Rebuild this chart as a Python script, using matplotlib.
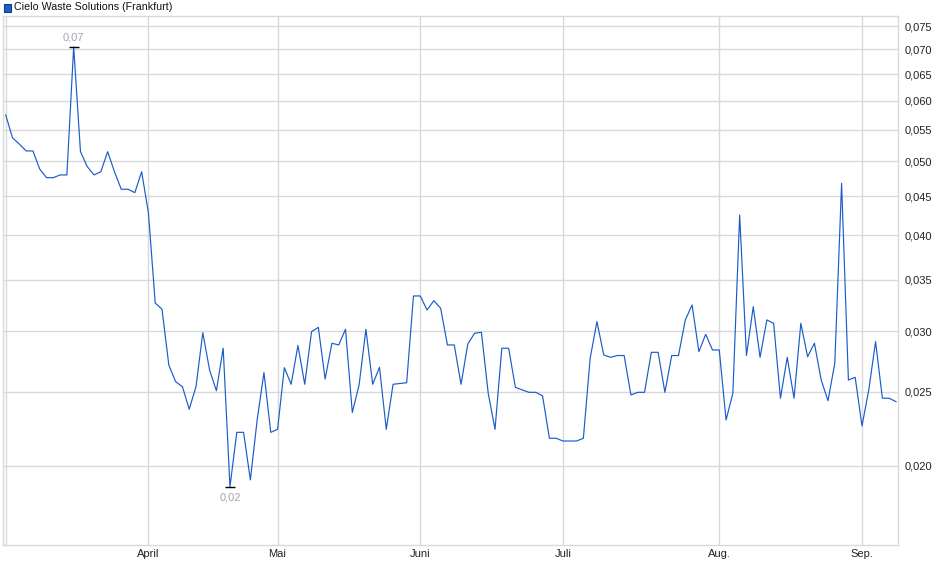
import matplotlib
matplotlib.use("Agg")
import matplotlib.pyplot as plt
from matplotlib.ticker import FixedLocator, FuncFormatter, NullLocator
from matplotlib.patches import Rectangle
import numpy as np

plt.rcParams['font.family'] = ['Liberation Sans', 'DejaVu Sans']

title = "Cielo Waste Solutions (Frankfurt)"

prices = [
    0.05747, 0.05364, 0.05267, 0.05158, 0.05158, 0.04886, 0.0476, 0.0476, 0.04799, 0.04799,
    0.07052, 0.05147, 0.0492, 0.04799, 0.04846, 0.05147, 0.04846, 0.04597, 0.04597, 0.0455,
    0.04846, 0.04281, 0.03265, 0.03204, 0.0271, 0.02577, 0.02539, 0.02372, 0.02539, 0.02986,
    0.02669, 0.02508, 0.0285, 0.01879, 0.02213, 0.02213, 0.01918, 0.02297, 0.02649, 0.02213,
    0.02233, 0.02688, 0.02557, 0.02874, 0.02557, 0.02995, 0.03035, 0.02598, 0.02893, 0.02878,
    0.03017, 0.02349, 0.02552, 0.03017, 0.02557, 0.02691, 0.02233, 0.02557, 0.02563, 0.02569,
    0.03335, 0.03335, 0.03197, 0.03288, 0.03214, 0.02878, 0.02878, 0.02557, 0.02887, 0.02981,
    0.0299, 0.02489, 0.02233, 0.0285, 0.0285, 0.02534, 0.02514, 0.02496, 0.02496, 0.02469,
    0.02174, 0.02174, 0.02156, 0.02156, 0.02156, 0.02174, 0.02765, 0.03087, 0.02793, 0.02773,
    0.02788, 0.02788, 0.02476, 0.02496, 0.02496, 0.02815, 0.02815, 0.02496, 0.02788, 0.02788,
    0.03103, 0.03246, 0.0282, 0.02972, 0.02835, 0.02835, 0.02297, 0.02489, 0.04255, 0.02788,
    0.03229, 0.02773, 0.03103, 0.03072, 0.02452, 0.02773, 0.02452, 0.03072, 0.02778, 0.02893,
    0.0259, 0.02434, 0.02724, 0.0468, 0.0259, 0.02611, 0.02256, 0.02514, 0.02907, 0.02452,
    0.02452, 0.02427,
]

month_labels = ["April", "Mai", "Juni", "Juli", "Aug.", "Sep."]
month_index = [21, 40, 61, 82, 105, 126]

y_ticks = [0.020, 0.025, 0.030, 0.035, 0.040, 0.045, 0.050, 0.055, 0.060, 0.065, 0.070, 0.075]

W, H = 940, 579
fig = plt.figure(figsize=(W / 100, H / 100), dpi=100)
ax = fig.add_axes([3 / W, 1 - 545 / H, (898 - 3) / W, (545 - 16) / H])

x = np.arange(len(prices))
line_color = "#1a5cc8"
ax.plot(x, prices, color=line_color, lw=0.85, zorder=3)

ax.set_yscale("log")
ax.set_ylim(0.01577, 0.0774)
ax.set_xlim(-0.4, 131.3)

ax.yaxis.set_major_locator(FixedLocator(y_ticks))
ax.yaxis.set_minor_locator(NullLocator())
ax.yaxis.set_major_formatter(FuncFormatter(lambda v, p: f"{v:.3f}".replace(".", ",")))
ax.yaxis.tick_right()
ax.tick_params(axis="y", length=0, pad=5, labelsize=8, labelcolor="#222222")

ax.xaxis.set_major_locator(FixedLocator(month_index))
ax.xaxis.set_minor_locator(NullLocator())
ax.set_xticklabels(month_labels)
ax.tick_params(axis="x", length=0, pad=3, labelsize=8, labelcolor="#222222")

grid_c = "#d9d9d9"
ax.grid(True, which="major", color=grid_c, lw=1.0, zorder=0)
ax.axvline(0, color=grid_c, lw=1.0, zorder=0)
for s in ax.spines.values():
    s.set_color(grid_c)
    s.set_linewidth(1.0)

# max / min markers
imax = int(np.argmax(prices))
imin = int(np.argmin(prices))
for idx, off in ((imax, 9), (imin, -11)):
    val = prices[idx]
    ax.plot([idx], [val], marker="_", color="black", markersize=7, mew=1.0, zorder=4)
    ax.annotate(f"{val:.2f}".replace(".", ","), (idx, val), xytext=(0, off),
                textcoords="offset pixels", ha="center", va="center",
                fontsize=8, color="#a0a6b0", zorder=5)

# legend
fig.patches.append(Rectangle((3.5 / W, 1 - 11.5 / H), 7.5 / W, 7.5 / H, transform=fig.transFigure,
                             facecolor="#1f5fc8", edgecolor="#123d80", lw=0.8))
fig.text(14.5 / W, 1 - 7 / H, title, fontsize=7.7, color="#111111", va="center", ha="left")

fig.savefig("out.png", dpi=100)
